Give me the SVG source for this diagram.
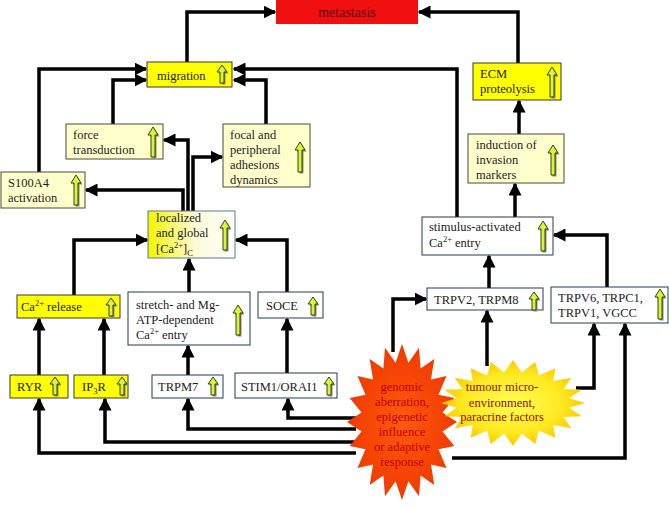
<svg xmlns="http://www.w3.org/2000/svg" xmlns:xlink="http://www.w3.org/1999/xlink" width="669" height="508" viewBox="0 0 669 508" font-family="Liberation Serif, Times New Roman, DejaVu Serif, serif">
<style>
text{font-family:'Liberation Serif','Times New Roman','DejaVu Serif',serif;font-size:12.5px;fill:#1c1c24}
.y{fill:#ffff00;stroke:#3a3a2a;stroke-width:1}
.p{fill:#ffffcc;stroke:#4a4a3a;stroke-width:1}
.w{fill:#ffffff;stroke:#1e3d50;stroke-width:1}
.c path{fill:none;stroke:#000;stroke-width:3.5;stroke-linejoin:miter;marker-end:url(#ah)}
.ic{fill:#d8f53a;stroke:#26300c;stroke-width:0.9}
.sh{fill:#8a8a80}
.rt{fill:#c00000;text-anchor:middle}
.yt{fill:#8b1500;text-anchor:middle}
.sup{font-size:8.5px}
</style>
<defs>
<marker id="ah" markerUnits="userSpaceOnUse" markerWidth="13" markerHeight="13" viewBox="0 0 13 13" refX="11.5" refY="6.5" orient="auto"><path d="M0,0 L13,6.5 L0,13 Z" fill="#000"/></marker>
<g id="upS"><path class="sh" d="M6.5,1.5 L11.5,8.5 L8.5,8.5 L8.5,19.5 L4.5,19.5 L4.5,8.5 L1.5,8.5 Z"/><path class="ic" d="M5,0 L10,7 L7,7 L7,18 L3,18 L3,7 L0,7 Z"/></g>
<g id="upT"><path class="sh" d="M6.5,1.5 L11.5,9.5 L8.5,9.5 L8.5,31.5 L4.5,31.5 L4.5,9.5 L1.5,9.5 Z"/><path class="ic" d="M5,0 L10,8 L7,8 L7,30 L3,30 L3,8 L0,8 Z"/></g>
<linearGradient id="lg" x1="0" y1="0" x2="1" y2="0"><stop offset="0" stop-color="#f4f400"/><stop offset="0.55" stop-color="#fbfbd8"/><stop offset="1" stop-color="#ffffff"/></linearGradient>
<radialGradient id="rg"><stop offset="0" stop-color="#ff5a10"/><stop offset="1" stop-color="#f03a00"/></radialGradient>
<radialGradient id="yg"><stop offset="0" stop-color="#ffff55"/><stop offset="0.7" stop-color="#ffe820"/><stop offset="1" stop-color="#ffc800"/></radialGradient>
</defs>

<g id="connectors" class="c">
<path d="M187,62 V12 H275"/>
<path d="M518,63 V12 H419"/>
<path d="M39,172 V69 H146"/>
<path d="M113,124 V80 H146"/>
<path d="M266,124 V80 H234"/>
<path d="M457,217 V69 H234"/>
<path d="M519,134 V101"/>
<path d="M515,217 V184"/>
<path d="M183,211 V190 H86"/>
<path d="M188,211 V140 H164"/>
<path d="M193,211 V157 H222"/>
<path d="M74,295 V240 H147"/>
<path d="M189,292 V259"/>
<path d="M287,292 V240 H236"/>
<path d="M39,375 V319"/>
<path d="M104,375 V319"/>
<path d="M188,375 V346"/>
<path d="M287,373 V319"/>
<path d="M489,288 V256"/>
<path d="M607,287 V235 H554"/>
<path d="M393,352 V299 H426"/>
<path d="M487,366 V311"/>
<path d="M576,388 H594 V324"/>
<path d="M452,458 H625 V324"/>
<path d="M356,418 H288 V399"/>
<path d="M356,429 H188 V399"/>
<path d="M356,442 H105 V399"/>
<path d="M356,453 H39 V399"/>
</g>

<g id="metastasis"><rect x="276" y="0" width="142" height="24" fill="#f01010"/><text x="347" y="17" text-anchor="middle" style="font-size:14px;fill:#5a0000">metastasis</text></g>

<g id="migration"><rect class="y" x="147" y="62" width="85" height="25"/><text x="157" y="80">migration</text><use href="#upS" x="217" y="65"/></g>

<g id="ecm"><rect class="y" x="473" y="63" width="88" height="37"/><text x="480" y="78">ECM</text><text x="480" y="93">proteolysis</text><use href="#upT" x="547" y="67"/></g>

<g id="force"><rect class="p" x="66" y="124" width="97" height="35"/><text x="73" y="139">force</text><text x="73" y="154">transduction</text><use href="#upT" x="148" y="127"/></g>

<g id="focal"><rect class="p" x="223" y="124" width="87" height="63"/><text x="230" y="139">focal and</text><text x="230" y="154">peripheral</text><text x="230" y="169">adhesions</text><text x="230" y="184">dynamics</text><use href="#upT" x="295" y="142"/></g>

<g id="s100a4"><rect class="p" x="1" y="172" width="84" height="36"/><text x="8" y="187">S100A4</text><text x="8" y="202">activation</text><use href="#upT" x="71" y="175"/></g>

<g id="induction"><rect class="p" x="468" y="134" width="96" height="49"/><text x="476" y="149">induction of</text><text x="476" y="164">invasion</text><text x="476" y="179">markers</text><use href="#upT" x="548" y="145"/></g>

<g id="localized"><rect x="148" y="211" width="87" height="47" fill="url(#lg)" stroke="#5a7a8a" stroke-width="1"/><text x="156" y="222">localized</text><text x="156" y="237">and global</text><text x="156" y="253">[Ca<tspan class="sup" dy="-5">2+</tspan><tspan dy="5">]</tspan><tspan class="sup" dy="3">C</tspan></text><use href="#upT" x="220" y="220"/></g>

<g id="stimulus"><rect class="w" x="422" y="217" width="131" height="38"/><text x="429" y="231">stimulus-activated</text><text x="429" y="247">Ca<tspan class="sup" dy="-5">2+</tspan><tspan dy="5"> entry</tspan></text><use href="#upT" x="538" y="221"/></g>

<g id="carelease"><rect class="y" x="17" y="295" width="103" height="23"/><text x="21" y="311">Ca<tspan class="sup" dy="-5">2+</tspan><tspan dy="5"> release</tspan></text><use href="#upS" x="106" y="298"/></g>

<g id="stretch"><rect class="w" x="128" y="292" width="122" height="53"/><text x="136" y="309">stretch- and Mg-</text><text x="136" y="324">ATP-dependent</text><text x="136" y="339">Ca<tspan class="sup" dy="-5">2+</tspan><tspan dy="5"> entry</tspan></text><use href="#upT" x="233" y="305"/></g>

<g id="soce"><rect class="w" x="258" y="292" width="65" height="26"/><text x="266" y="310">SOCE</text><use href="#upS" x="308" y="297"/></g>

<g id="ryr"><rect class="y" x="10" y="375" width="58" height="23"/><text x="17" y="391">RYR</text><use href="#upS" x="50" y="377"/></g>

<g id="ip3r"><rect class="y" x="74" y="375" width="54" height="23"/><text x="82" y="391">IP<tspan class="sup" dy="3">3</tspan><tspan dy="-3">R</tspan></text><use href="#upS" x="117" y="377"/></g>

<g id="trpm7"><rect class="w" x="152" y="375" width="71" height="23"/><text x="158" y="391">TRPM7</text><use href="#upS" x="208" y="377"/></g>

<g id="stim1"><rect class="w" x="235" y="373" width="102" height="25"/><text x="241" y="391">STIM1/ORAI1</text><use href="#upS" x="324" y="377"/></g>

<g id="trpv2"><rect class="w" x="427" y="288" width="116" height="22"/><text x="434" y="304">TRPV2, TRPM8</text><use href="#upS" x="529" y="292"/></g>

<g id="trpv6"><rect class="w" x="551" y="287" width="117" height="36"/><text x="558" y="302">TRPV6, TRPC1,</text><text x="558" y="317">TRPV1, VGCC</text><use href="#upT" x="655" y="289"/></g>

<g id="genomic">
<polygon fill="url(#rg)" points="402,344 408.4,362.7 419,347.8 420.6,368.5 434.3,358.9 431,379.6 446.5,376.1 438.5,394.8 454.3,397.9 442.5,412.6 457,422 442.5,431.4 454.3,446.1 438.5,449.2 446.5,467.9 431,464.4 434.3,485.1 420.6,475.5 419,496.2 408.4,481.3 402,500 395.6,481.3 385,496.2 383.4,475.5 369.7,485.1 373,464.4 357.5,467.9 365.5,449.2 349.7,446.1 361.5,431.4 347,422 361.5,412.6 349.7,397.9 365.5,394.8 357.5,376.1 373,379.6 369.7,358.9 383.4,368.5 385,347.8 395.6,362.7"/>
<text class="rt" x="402" y="391">genomic</text>
<text class="rt" x="402" y="406">aberration,</text>
<text class="rt" x="402" y="421">epigenetic</text>
<text class="rt" x="402" y="436">influence</text>
<text class="rt" x="402" y="451">or adaptive</text>
<text class="rt" x="402" y="466">response</text>
</g>

<g id="tumour">
<polygon fill="url(#yg)" points="513,360 521.9,372.4 535.2,362.1 538.9,375.4 555.3,368.2 553.3,381.1 571.2,377.7 563.8,388.9 581.5,389.7 569.3,398.2 585,403 569.3,407.8 581.5,416.3 563.8,417.1 571.2,428.3 553.3,424.9 555.3,437.8 538.9,430.6 535.2,443.9 521.9,433.6 513,446 504.1,433.6 490.8,443.9 487.1,430.6 470.7,437.8 472.7,424.9 454.8,428.3 462.2,417.1 444.5,416.3 456.7,407.8 441,403 456.7,398.2 444.5,389.7 462.2,388.9 454.8,377.7 472.7,381.1 470.7,368.2 487.1,375.4 490.8,362.1 504.1,372.4"/>
<text class="yt" x="502" y="391">tumour micro-</text>
<text class="yt" x="502" y="407">environment,</text>
<text class="yt" x="502" y="421">paracrine factors</text>
</g>
</svg>
